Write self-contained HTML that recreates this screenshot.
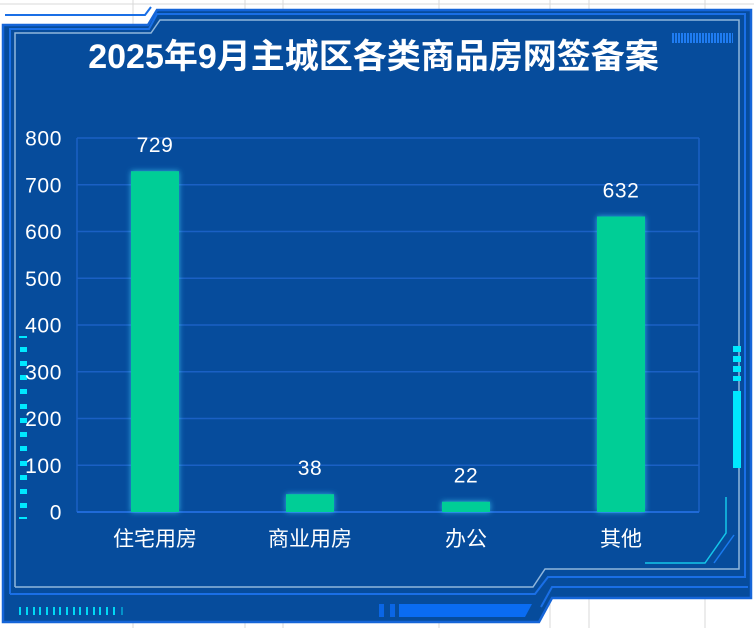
<!DOCTYPE html>
<html>
<head>
<meta charset="utf-8">
<style>
html,body{margin:0;padding:0;background:#fff;}
svg{display:block;}
text{font-family:"Liberation Sans","Noto Sans CJK SC",sans-serif;fill:#fff;}
</style>
</head>
<body>
<svg width="754" height="628" viewBox="0 0 754 628" xmlns="http://www.w3.org/2000/svg">
<defs>
<filter id="glow" x="-30%" y="-30%" width="160%" height="160%">
<feGaussianBlur in="SourceAlpha" stdDeviation="3" result="b"/>
<feFlood flood-color="#3fd0ff" flood-opacity="0.75"/>
<feComposite in2="b" operator="in" result="g"/>
<feMerge><feMergeNode in="g"/><feMergeNode in="SourceGraphic"/></feMerge>
</filter>
<pattern id="stripe" width="3" height="10" patternUnits="userSpaceOnUse">
<rect width="2" height="10" fill="#1f7cf2"/>
</pattern>
</defs>

<!-- outside background grid -->
<rect width="754" height="628" fill="#ffffff"/>
<g stroke="#d9d9d9" stroke-width="1">
<line x1="133" y1="0" x2="133" y2="628"/>
<line x1="245" y1="0" x2="245" y2="628"/>
<line x1="283" y1="0" x2="283" y2="628"/>
<line x1="439" y1="0" x2="439" y2="628"/>
<line x1="550" y1="0" x2="550" y2="628"/>
<line x1="589" y1="0" x2="589" y2="628"/>
<line x1="705" y1="0" x2="705" y2="628"/>
<line x1="0" y1="4" x2="754" y2="4"/>
</g>

<!-- top-left outer thin line -->
<polyline points="5,15 145,15 151,7" fill="none" stroke="#1a6fe6" stroke-width="2"/>

<!-- panel -->
<polygon points="3,25 148,25 157,10 751,10 751,598 552,598 539,622 3,622" fill="#064c9c" stroke="#1565d8" stroke-width="2.5"/>

<!-- inner bright line -->
<polyline points="10,594 10,29 149,29 157,14 745,14 745,577 548,577 535,594 10,594" fill="none" stroke="#1a6fe6" stroke-width="2"/>
<!-- extra bright line bottom-right -->
<polyline points="748,587 552,587 541,607" fill="none" stroke="#1a6fe6" stroke-width="2"/>
<!-- light inner line -->
<polyline points="15,587 15,33 151,33 160,20 739,20 739,569 545,569 533,587 15,587" fill="none" stroke="#8fb6dc" stroke-width="1.5"/>

<!-- top-right stripe deco -->
<rect x="672" y="33" width="61" height="10" fill="url(#stripe)"/>

<!-- right cyan bars -->
<g fill="#00e8ff">
<rect x="733" y="346" width="8" height="6"/>
<rect x="733" y="356" width="8" height="6"/>
<rect x="733" y="366" width="8" height="6"/>
<rect x="733" y="376" width="8" height="5"/>
<rect x="733" y="391" width="8" height="77"/>
</g>

<!-- left cyan ticks -->
<g fill="#00e8ff">
<rect x="19" y="336" width="8" height="2"/>
<rect x="20" y="347" width="7" height="5"/>
<rect x="20" y="361" width="7" height="5"/>
<rect x="20" y="375" width="7" height="5"/>
<rect x="20" y="389" width="7" height="5"/>
<rect x="20" y="404" width="7" height="5"/>
<rect x="20" y="418" width="7" height="5"/>
<rect x="20" y="432" width="7" height="5"/>
<rect x="20" y="446" width="7" height="5"/>
<rect x="20" y="461" width="7" height="5"/>
<rect x="20" y="475" width="7" height="5"/>
<rect x="20" y="489" width="7" height="5"/>
<rect x="20" y="503" width="7" height="5"/>
<rect x="19" y="517" width="8" height="2"/>
</g>

<!-- bottom-right cyan corner -->
<polyline points="726,497 726,533 705,563 645,563" fill="none" stroke="#14c6ea" stroke-width="1.5"/>
<line x1="734" y1="535" x2="714" y2="563" stroke="#1a7af0" stroke-width="1.5"/>

<!-- bottom ticks -->
<g fill="#00d8f5">
<rect x="19" y="607" width="2" height="8"/>
<rect x="26" y="607" width="2" height="8"/>
<rect x="33" y="607" width="2" height="8"/>
<rect x="39" y="607" width="2" height="8"/>
<rect x="46" y="607" width="2" height="8"/>
<rect x="53" y="607" width="2" height="8"/>
<rect x="59" y="607" width="2" height="8"/>
<rect x="66" y="607" width="2" height="8"/>
<rect x="73" y="607" width="2" height="8"/>
<rect x="79" y="607" width="2" height="8"/>
<rect x="86" y="607" width="2" height="8"/>
<rect x="93" y="607" width="2" height="8"/>
<rect x="99" y="607" width="2" height="8"/>
<rect x="106" y="607" width="2" height="8"/>
<rect x="113" y="607" width="2" height="8"/>
<rect x="121" y="607" width="2" height="8" opacity="0.5"/>
</g>

<!-- bottom blue bar -->
<rect x="379" y="604" width="5" height="13" fill="#0a66e6"/>
<rect x="390" y="604" width="5" height="13" fill="#0a66e6"/>
<polygon points="399,604 532,604 525,617 399,617" fill="#0a6cf2"/>

<!-- title -->
<text x="373.5" y="68" font-size="34" font-weight="bold" text-anchor="middle">2025年9月主城区各类商品房网签备案</text>

<!-- grid -->
<g stroke="#1a60c4" stroke-width="1.5" fill="none">
<line x1="77" y1="138" x2="699" y2="138"/>
<line x1="77" y1="184.75" x2="699" y2="184.75"/>
<line x1="77" y1="231.5" x2="699" y2="231.5"/>
<line x1="77" y1="278.25" x2="699" y2="278.25"/>
<line x1="77" y1="325" x2="699" y2="325"/>
<line x1="77" y1="371.75" x2="699" y2="371.75"/>
<line x1="77" y1="418.5" x2="699" y2="418.5"/>
<line x1="77" y1="465.25" x2="699" y2="465.25"/>
<line x1="77" y1="138" x2="77" y2="512"/>
<line x1="699" y1="138" x2="699" y2="512"/>
</g>
<line x1="77" y1="512" x2="699" y2="512" stroke="#1f6ad8" stroke-width="2"/>

<!-- y labels -->
<g font-size="21" text-anchor="end" letter-spacing="0.6">
<text x="62" y="145.5">800</text>
<text x="62" y="192.3">700</text>
<text x="62" y="239">600</text>
<text x="62" y="285.8">500</text>
<text x="62" y="332.5">400</text>
<text x="62" y="379.3">300</text>
<text x="62" y="426">200</text>
<text x="62" y="472.8">100</text>
<text x="62" y="519.5">0</text>
</g>

<!-- bars -->
<g fill="#00ce96" filter="url(#glow)">
<rect x="131" y="171.2" width="48" height="340.8"/>
<rect x="286" y="494.2" width="48" height="17.8"/>
<rect x="442" y="501.7" width="48" height="10.3"/>
<rect x="597" y="216.5" width="48" height="295.5"/>
</g>

<!-- value labels -->
<g font-size="21" text-anchor="middle" letter-spacing="0.6">
<text x="155" y="152">729</text>
<text x="310" y="475">38</text>
<text x="466" y="482.5">22</text>
<text x="621" y="197.5">632</text>
</g>

<!-- x labels -->
<g font-size="21" text-anchor="middle">
<text x="155" y="546">住宅用房</text>
<text x="310" y="546">商业用房</text>
<text x="466" y="546">办公</text>
<text x="621" y="546">其他</text>
</g>
</svg>
</body>
</html>
